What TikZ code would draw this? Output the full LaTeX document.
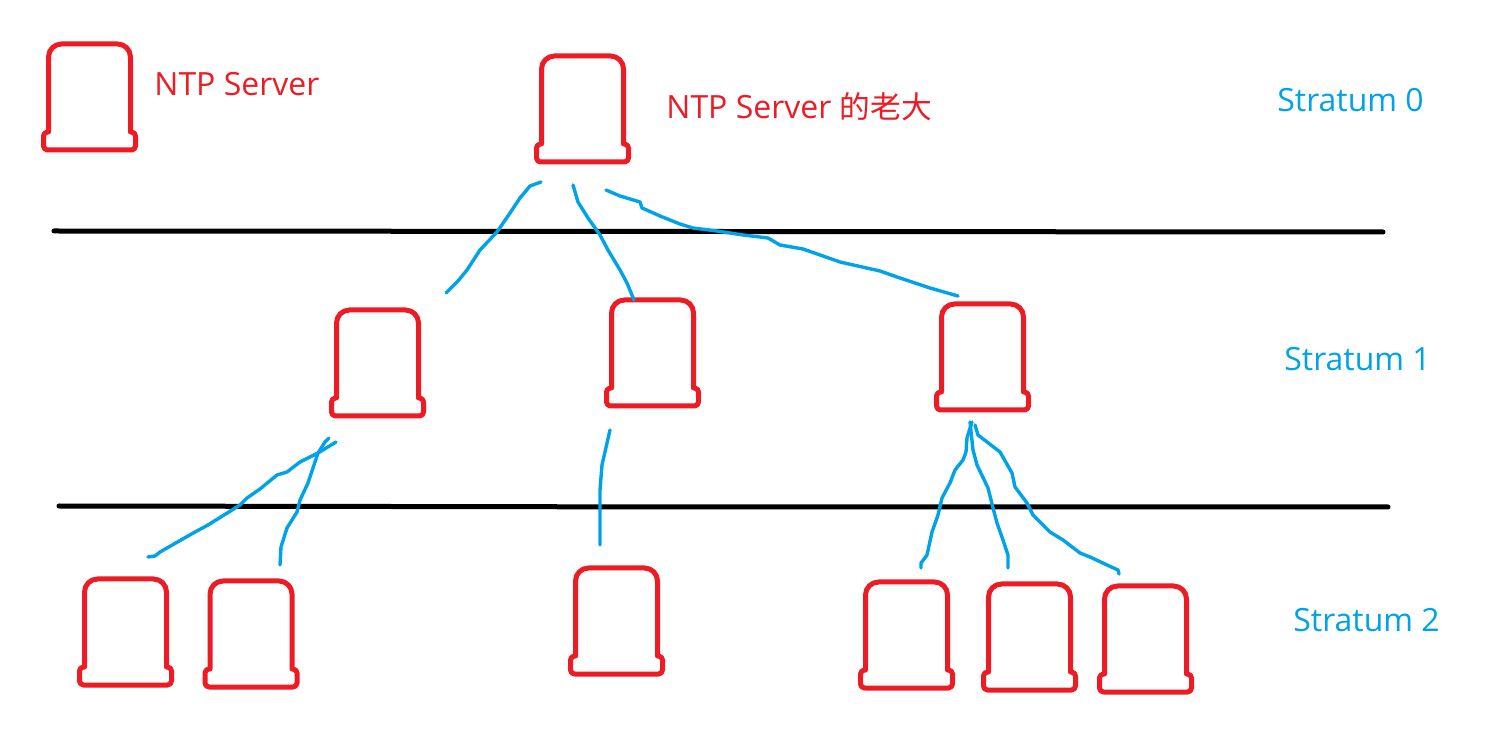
\documentclass[tikz,border=0pt]{standalone}
\usepackage{fontspec}
\setmainfont{Open Sans}
\newfontfamily\cjkfont{Noto Sans CJK TC}[Scale=0.96]
\definecolor{srvred}{HTML}{ED1C24}
\definecolor{wireblue}{HTML}{00A2E8}
\tikzset{
  x=0.5pt,y=-0.5pt,
  serverbox/.style={minimum width=41.5pt,minimum height=53pt,inner sep=0pt,outer sep=0pt},
  serverline/.style={draw=srvred,line width=2.5pt,line join=round},
  wire/.style={draw=wireblue,line width=1.7pt,line join=round,line cap=round},
  divider/.style={draw=black,line width=2.5pt,line cap=round},
  redlabel/.style={text=srvred,font=\fontsize{16pt}{18pt}\selectfont,anchor=base west,inner sep=0pt},
  bluelabel/.style={text=wireblue,font=\fontsize{16pt}{18pt}\selectfont,anchor=base west,inner sep=0pt},
}
\newcommand{\serverat}[3]{%
  \node[serverbox] (#1) at (#2,#3+53) {};
  \draw[serverline,shift={(#1.center)}]
    (-41,35) [rounded corners=6.5pt] -- (-41,-53) -- (41,-53) [sharp corners] -- (41,35)
    [rounded corners=2pt] -- (46,35) -- (46,53) -- (-46,53) -- (-46,35) [sharp corners] -- cycle;
}
\begin{document}
\begin{tikzpicture}
\useasboundingbox (0,0) rectangle (1500,737);
\fill[white] (0,0) rectangle (1500,737);
% dividers
\coordinate (d1a) at (54,231); \coordinate (d1b) at (1383,232);
\coordinate (d2a) at (59,506); \coordinate (d2m) at (722,507); \coordinate (d2b) at (1388,507);
\draw[divider] (d1a) -- (d1b);
\draw[divider] (d2a) -- (d2m) -- (d2b);
% servers
\serverat{legend}{89.5}{44}
\serverat{s0}{582.5}{56}
\serverat{s1a}{377.5}{310}
\serverat{s1b}{652.5}{300}
\serverat{s1c}{982.5}{304}
\serverat{s2a}{125.5}{579}
\serverat{s2b}{251}{581}
\serverat{s2c}{616.5}{568}
\serverat{s2d}{906.5}{582}
\serverat{s2e}{1029.5}{584}
\serverat{s2f}{1145.5}{586}
% connectors (hand drawn, free ended)
\coordinate (w1a) at (541,182); \coordinate (w1b) at (446,293);
\draw[wire] (w1a) -- (530,186) -- (520,198) -- (510,213) -- (497,232) -- (480,250) -- (467,270) -- (458,281) -- (w1b);
\coordinate (w2a) at (573,185); \coordinate (w2b) at (634,300);
\draw[wire] (w2a) -- (578,202) -- (588,218) -- (600,235) -- (608,250) -- (620,270) -- (627,283) -- (w2b);
\coordinate (w3a) at (606,190); \coordinate (w3b) at (958,296);
\draw[wire] (w3a) -- (620,196) -- (640,202) -- (642,208) -- (660,216) -- (680,224) -- (693,228) -- (717,231) -- (743,235) -- (768,238) -- (780,245) -- (803,249) -- (840,262) -- (880,271) -- (897,277) -- (930,288) -- (w3b);
\coordinate (w4a) at (336,442); \coordinate (w4b) at (148,557);
\draw[wire] (w4a) -- (318,453) -- (300,462) -- (287,472) -- (277,475) -- (260,489) -- (247,498) -- (240,505) -- (208,525) -- (195,532) -- (160,552) -- (155,556) -- (w4b);
\coordinate (w5a) at (329,438); \coordinate (w5b) at (280,565);
\draw[wire] (w5a) -- (325,442) -- (318,453) -- (308,483) -- (300,500) -- (297,512) -- (287,528) -- (281,547) -- (w5b);
\coordinate (w6a) at (610,430); \coordinate (w6b) at (600,545);
\draw[wire] (w6a) -- (602,465) -- (600,490) -- (w6b);
\coordinate (w7a) at (972,422); \coordinate (w7b) at (921,568);
\draw[wire] (w7a) -- (967,438) -- (966,452) -- (963,460) -- (955,470) -- (950,483) -- (942,498) -- (938,515) -- (932,532) -- (927,555) -- (921,563) -- (w7b);
\coordinate (w8a) at (970,422); \coordinate (w8b) at (1008,568);
\draw[wire] (w8a) -- (973,450) -- (977,465) -- (988,488) -- (993,508) -- (997,523) -- (1003,540) -- (1008,555) -- (w8b);
\coordinate (w9a) at (975,425); \coordinate (w9b) at (1119,574);
\draw[wire] (w9a) -- (978,435) -- (1000,452) -- (1012,473) -- (1015,487) -- (1027,503) -- (1033,515) -- (1050,532) -- (1063,540) -- (1080,553) -- (1090,557) -- (1107,565) -- (1118,570) -- (w9b);
% labels
\node[redlabel] (t1) at (154,96) {NTP Server};
\node[redlabel] (t2) at (666,119) {NTP Server {\cjkfont 的老大}};
\node[bluelabel] (t3) at (1277,112) {Stratum 0};
\node[bluelabel] (t4) at (1284,371) {Stratum 1};
\node[bluelabel] (t5) at (1293,632) {Stratum 2};
\end{tikzpicture}
\end{document}
